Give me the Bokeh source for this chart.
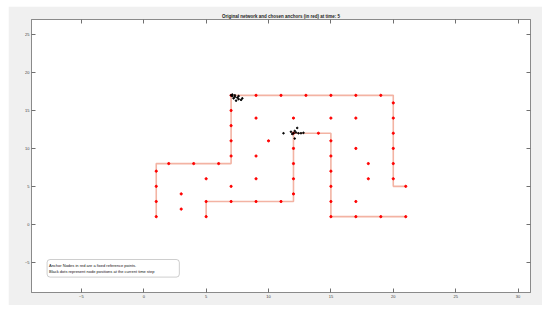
from bokeh.plotting import figure
from bokeh.models import LinearAxis, Range1d, BoxAnnotation, Label, FixedTicker
from bokeh.embed import file_html
from bokeh.resources import INLINE

# Red path 1 (corridor) and path 2
path1_x = [1, 1, 7, 7, 20, 20, 21]
path1_y = [1, 8, 8, 17, 17, 5, 5]
path2_x = [5, 5, 12, 12, 15, 15, 21]
path2_y = [1, 3, 3, 12, 12, 1, 1]

# Anchor nodes (red)
anchor_x = [1, 1, 1, 1, 2, 4, 6, 7, 7, 7, 7, 7, 9, 11, 13, 15, 17, 19, 20, 20, 20, 20, 20, 20, 21,
            5, 5, 7, 9, 11, 12, 12, 12, 12, 12, 14, 15, 15, 15, 15, 15, 15, 17, 19, 21,
            3, 3, 5, 7, 9, 9, 10, 9, 12, 15, 17, 17, 18, 18, 17]
anchor_y = [1, 3, 5, 7, 8, 8, 8, 9, 11, 13, 15, 17, 17, 17, 17, 17, 17, 17, 16, 14, 12, 10, 8, 6, 5,
            1, 3, 3, 3, 3, 4, 6, 8, 10, 12, 12, 11, 9, 7, 5, 3, 1, 1, 1, 1,
            4, 2, 6, 5, 6, 9, 11, 14, 14, 14, 14, 10, 8, 6, 3]

# Black dots: node positions at current time step
node_x = [7.0, 7.1, 7.3, 7.5, 7.2, 7.6, 7.8, 7.4, 7.9, 7.1, 7.6, 7.3,
          12.0, 12.2, 12.4, 12.6, 12.1, 11.9, 12.3, 11.8, 12.8, 12.1, 11.2]
node_y = [17.0, 16.9, 16.8, 16.7, 16.6, 16.5, 16.4, 16.3, 16.6, 17.1, 16.9, 17.0,
          12.0, 12.1, 12.0, 12.0, 12.3, 11.9, 12.7, 12.2, 12.05, 11.3, 12.0]

x_ticks = [-5, 0, 5, 10, 15, 20, 25, 30]
y_ticks = [-5, 0, 5, 10, 15, 20, 25]

title_text = "Original network and chosen anchors (in red) at time: 5"
note_lines = ["Anchor Nodes in red are a fixed reference points.",
              "Black dots represent node positions at the current time step"]

p = figure(width=534, height=299, output_backend="svg", toolbar_location=None,
           x_range=Range1d(-9, 31), y_range=Range1d(-9, 27),
           min_border_left=23, min_border_right=12, min_border_top=13, min_border_bottom=13)
p.margin = (6, 8, 7, 8)
p.background_fill_color = "white"
p.border_fill_color = "#f0f0f0"
p.outline_line_color = "#8a8a8a"
p.outline_line_width = 1
p.xgrid.visible = False
p.ygrid.visible = False

p.title.text = title_text
p.title.text_font = "Liberation Sans"
p.title.text_font_size = "4.5px"
p.title.text_font_style = "bold"
p.title.align = "center"
p.title.standoff = 1
p.title.text_color = "#222222"

def style_axis(ax, ticks, labels=True):
    ax.ticker = FixedTicker(ticks=ticks)
    ax.major_tick_in = 4
    ax.major_tick_out = 0
    ax.minor_tick_in = 0
    ax.minor_tick_out = 0
    ax.axis_line_color = "#8a8a8a"
    ax.major_tick_line_color = "#707070"
    ax.major_label_text_font = "Liberation Sans"
    ax.major_label_text_color = "#404040"
    ax.major_label_standoff = 2
    if labels:
        ax.major_label_text_font_size = "4px"
    else:
        ax.major_label_text_font_size = "1px"
        ax.major_label_text_alpha = 0
        ax.major_label_standoff = 0

top = LinearAxis()
right = LinearAxis()
p.add_layout(top, "above")
p.add_layout(right, "right")
for ax in p.xaxis:
    style_axis(ax, x_ticks, labels=(ax is not top))
for ax in p.yaxis:
    style_axis(ax, y_ticks, labels=(ax is not right))

p.line(path1_x, path1_y, line_color="#f3b3a3", line_width=1.6)
p.line(path2_x, path2_y, line_color="#f3b3a3", line_width=1.6)
p.scatter(anchor_x, anchor_y, marker="circle", size=2.2, fill_color="red", line_color="red")
p.scatter(node_x, node_y, marker="circle", size=1.6, fill_color="black", line_color="black")

box = BoxAnnotation(left=-7.75, right=2.85, top=-4.65, bottom=-6.97,
                    fill_color="white", fill_alpha=1, line_color="#333333", line_width=0.8,
                    border_radius=3)
p.add_layout(box)
for i, t in enumerate(note_lines):
    p.add_layout(Label(x=-7.6, y=-5.43 - 0.8 * i, text=t, text_font="Liberation Sans",
                       text_font_size="4px", text_color="#111111", text_baseline="middle"))

open("out.html", "w").write(file_html(p, INLINE))
